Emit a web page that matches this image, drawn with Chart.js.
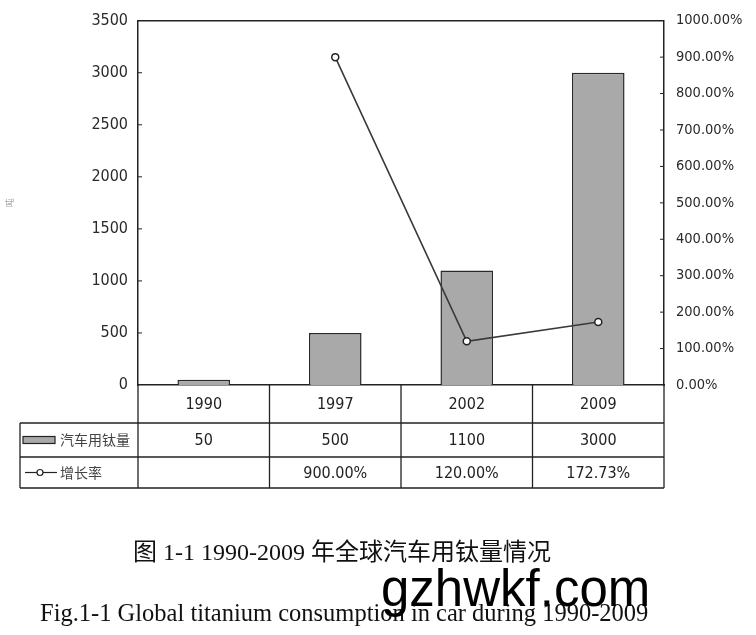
<!DOCTYPE html>
<html>
<head>
<meta charset="utf-8">
<script src="https://cdn.jsdelivr.net/npm/chart.js@4/dist/chart.umd.min.js"></script>
<style>
  html, body { margin: 0; padding: 0; background: #fff; }
  #wrap { position: relative; width: 756px; height: 635px; overflow: hidden; }
  #chart { position: absolute; left: 0; top: 0; }
  .cap { position: absolute; white-space: nowrap; line-height: 1; color: #111; }
  #cap1 { left: 133px; top: 532px; font: 24px "Liberation Serif", "Noto Sans CJK SC", serif; }
  #cap2 { left: 40px; top: 599px; font: 24.5px "Liberation Serif", serif; }
  #mark { left: 381px; top: 559px; font: 51px "Liberation Sans", Arial, sans-serif; color: #000; }
</style>
</head>
<body>
<div id="wrap">
  <canvas id="chart" width="756" height="635"></canvas>
  <div class="cap" id="cap1">图 1-1 1990-2009 年全球汽车用钛量情况</div>
  <div class="cap" id="cap2">Fig.1-1 Global titanium consumption in car during 1990-2009</div>
  <div class="cap" id="mark">gzhwkf.com</div>
</div>
<script>
// data
const years = ['1990', '1997', '2002', '2009'];
const titaniumUse = [50, 500, 1100, 3000];          // 汽车用钛量 (吨)
const growthRate = [null, 900.00, 120.00, 172.73];  // 增长率 (%)
const seriesNames = ['汽车用钛量', '增长率'];
const unitLabel = '吨';

const narrow = '"Liberation Sans Narrow", "DejaVu Sans Condensed", "Arial Narrow", sans-serif';
const cjk = '"Noto Sans CJK SC", sans-serif';
const barFill = '#a9a9a9';
const ink = '#222';

const pct = v => v.toFixed(2) + '%';

// frame, inward ticks and the data table under the plot
const tablePlugin = {
  id: 'dataTable',
  afterDraw(chart) {
    const { ctx, chartArea: a, scales } = chart;
    const x = scales.x;
    const colW = (a.right - a.left) / years.length;
    const r0 = a.bottom, r1 = a.bottom + 38, r2 = r1 + 34, r3 = r2 + 31;
    const legL = 20;

    ctx.save();
    ctx.strokeStyle = ink;
    ctx.lineWidth = 1.5;

    // top frame line
    ctx.beginPath();
    ctx.moveTo(a.left, a.top);
    ctx.lineTo(a.right, a.top);
    ctx.stroke();

    // inward ticks
    ctx.lineWidth = 1;
    scales.y.ticks.forEach(t => {
      if (t.value === 0 || t.value === scales.y.max) return;
      const py = scales.y.getPixelForValue(t.value);
      ctx.beginPath(); ctx.moveTo(a.left, py); ctx.lineTo(a.left + 4, py); ctx.stroke();
    });
    scales.y1.ticks.forEach(t => {
      if (t.value === 0 || t.value === scales.y1.max) return;
      const py = scales.y1.getPixelForValue(t.value);
      ctx.beginPath(); ctx.moveTo(a.right - 4, py); ctx.lineTo(a.right, py); ctx.stroke();
    });

    // table grid
    ctx.lineWidth = 1.3;
    ctx.beginPath();
    ctx.moveTo(legL, r1); ctx.lineTo(a.right, r1);
    ctx.moveTo(legL, r2); ctx.lineTo(a.right, r2);
    ctx.moveTo(legL, r3); ctx.lineTo(a.right, r3);
    ctx.moveTo(legL, r1); ctx.lineTo(legL, r3);
    for (let i = 0; i <= years.length; i++) {
      const cx = a.left + i * colW;
      ctx.moveTo(cx, r0); ctx.lineTo(cx, r3);
    }
    ctx.stroke();

    // table text
    ctx.fillStyle = ink;
    ctx.textAlign = 'center';
    ctx.textBaseline = 'middle';
    ctx.font = '16px ' + narrow;
    years.forEach((yr, i) => {
      const cx = x.getPixelForValue(i);
      ctx.fillText(yr, cx, (r0 + r1) / 2 + 1);
      ctx.fillText(String(titaniumUse[i]), cx, (r1 + r2) / 2 + 1);
      if (growthRate[i] != null) ctx.fillText(pct(growthRate[i]), cx, (r2 + r3) / 2 + 1);
    });

    // legend cells
    const ly1 = (r1 + r2) / 2, ly2 = (r2 + r3) / 2;
    ctx.fillStyle = barFill;
    ctx.fillRect(23, ly1 - 3.5, 32, 7);
    ctx.lineWidth = 1.2;
    ctx.strokeRect(23, ly1 - 3.5, 32, 7);
    ctx.beginPath();
    ctx.moveTo(25, ly2); ctx.lineTo(57, ly2);
    ctx.stroke();
    ctx.beginPath();
    ctx.arc(40, ly2, 3, 0, Math.PI * 2);
    ctx.fillStyle = '#fff';
    ctx.fill();
    ctx.stroke();

    ctx.fillStyle = '#444';
    ctx.textAlign = 'left';
    ctx.font = '14px ' + cjk;
    ctx.fillText(seriesNames[0], 60, ly1);
    ctx.fillText(seriesNames[1], 60, ly2);
    ctx.restore();
  }
};

new Chart(document.getElementById('chart'), {
  type: 'bar',
  data: {
    labels: years,
    datasets: [
      {
        type: 'line',
        label: seriesNames[1],
        data: growthRate,
        yAxisID: 'y1',
        borderColor: '#3a3a3a',
        borderWidth: 1.6,
        pointRadius: 3.5,
        pointBackgroundColor: '#fff',
        pointBorderColor: '#222',
        pointBorderWidth: 1.5,
        tension: 0,
        order: 1
      },
      {
        type: 'bar',
        label: seriesNames[0],
        data: titaniumUse,
        yAxisID: 'y',
        backgroundColor: barFill,
        borderColor: '#2a2a2a',
        borderWidth: 1.5,
        barPercentage: 0.4,
        categoryPercentage: 1,
        order: 2
      }
    ]
  },
  options: {
    responsive: false,
    animation: false,
    layout: { padding: { top: 20, left: 0, right: 0, bottom: 0 } },
    plugins: {
      legend: { display: false },
      tooltip: { enabled: false }
    },
    scales: {
      x: {
        ticks: { display: false },
        grid: { display: false, drawTicks: false },
        border: { display: true, color: ink, width: 1.5 },
        afterFit: s => { s.height = 250; }
      },
      y: {
        position: 'left',
        min: 0,
        max: 3500,
        ticks: { stepSize: 500, padding: 10, color: '#2a2a2a', font: { family: narrow, size: 16 }, callback: v => String(v) },
        grid: { display: false, drawTicks: false },
        border: { color: ink, width: 1.5 },
        title: { display: true, text: unitLabel, color: '#aaa', font: { family: cjk, size: 9 }, padding: { top: 4, bottom: 0 } },
        afterFit: s => { s.width = 138; }
      },
      y1: {
        position: 'right',
        min: 0,
        max: 1000,
        ticks: { stepSize: 100, padding: 12, color: '#2a2a2a', font: { family: narrow, size: 14.5 }, callback: v => pct(v) },
        grid: { display: false, drawTicks: false },
        border: { color: ink, width: 1.5 },
        afterFit: s => { s.width = 92; }
      }
    }
  },
  plugins: [tablePlugin]
});
</script>
</body>
</html>
